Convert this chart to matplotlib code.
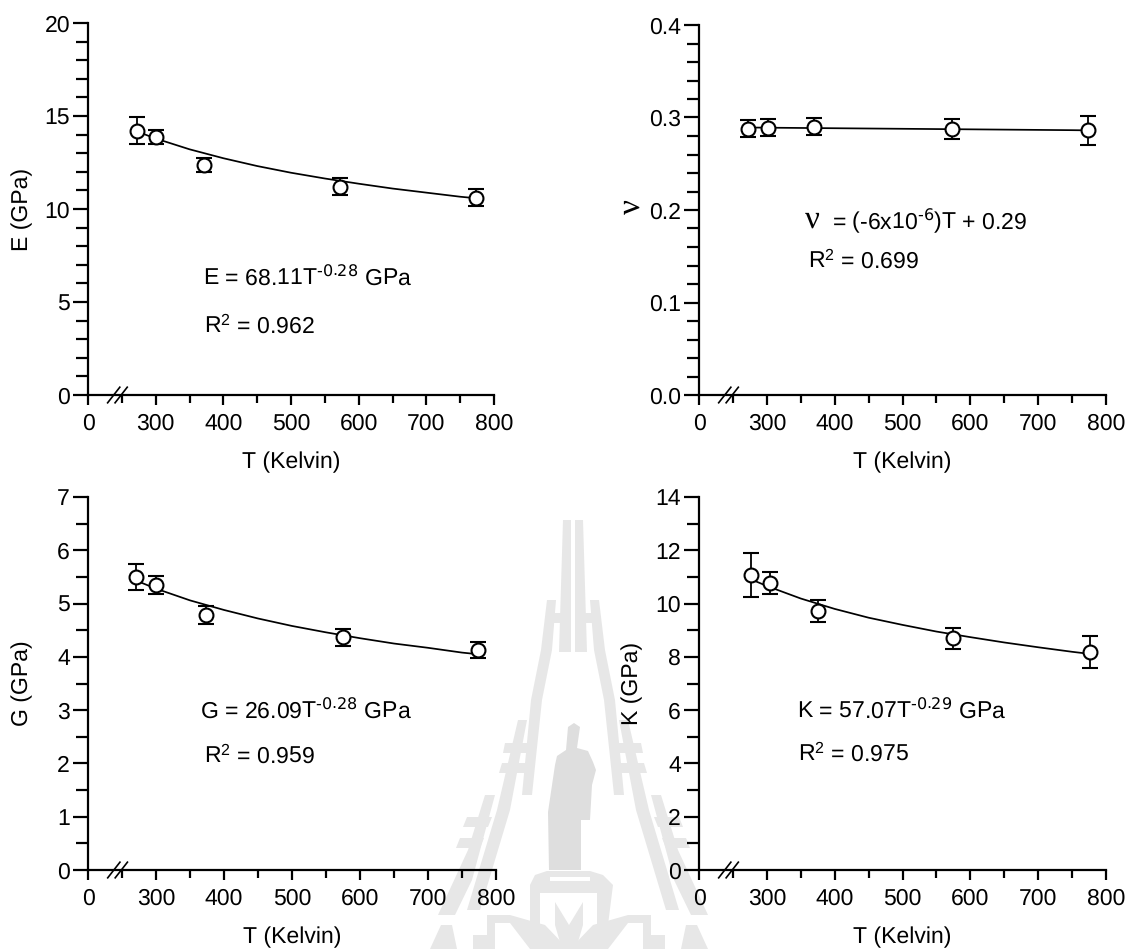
import matplotlib
matplotlib.use('Agg')
import matplotlib.pyplot as plt
from matplotlib.patches import Polygon
from matplotlib.ticker import MultipleLocator, FixedLocator, FuncFormatter

plt.rcParams['font.family'] = ['Liberation Sans', 'DejaVu Sans']
plt.rcParams['mathtext.default'] = 'regular'
plt.rcParams['text.hinting'] = 'no_hinting'
plt.rcParams['text.hinting_factor'] = 1

W, H = 1129, 949
FS = 16.5

# measured temperatures for each panel
T_e = [272, 301, 371, 573, 773]
T_v = [272, 302, 370, 573, 773]
T_g = [271, 300, 373, 575, 773]
T_k = [276, 305, 375, 575, 776]

e_val = [14.2, 13.85, 12.37, 11.2, 10.6]
e_err = [0.72, 0.38, 0.37, 0.45, 0.45]
v_val = [0.288, 0.289, 0.290, 0.2875, 0.286]
v_err = [0.009, 0.009, 0.009, 0.0105, 0.016]
g_val = [5.5, 5.35, 4.78, 4.37, 4.12]
g_err = [0.25, 0.17, 0.17, 0.16, 0.15]
k_val = [11.08, 10.77, 9.72, 8.7, 8.2]
k_err = [0.83, 0.42, 0.43, 0.4, 0.6]

# fitted curves
T_fit = [273, 300, 350, 400, 450, 500, 550, 600, 650, 700, 750, 773]
e_fit = [14.16, 13.79, 13.21, 12.73, 12.31, 11.95, 11.64, 11.36, 11.10, 10.88, 10.66, 10.58]
v_fit = [0.2892, 0.2890, 0.2887, 0.2884, 0.2881, 0.2878, 0.2875, 0.2872, 0.2869, 0.2866, 0.2863, 0.2861]
g_fit = [5.42, 5.28, 5.06, 4.88, 4.72, 4.58, 4.46, 4.35, 4.25, 4.17, 4.08, 4.05]
k_fit = [10.95, 10.66, 10.19, 9.80, 9.47, 9.20, 8.95, 8.74, 8.54, 8.36, 8.19, 8.12]

x_ticks = [200, 300, 400, 500, 600, 700, 800]
x_labels = ['0', '300', '400', '500', '600', '700', '800']

fig = plt.figure(figsize=(W / 100, H / 100), dpi=100)


def px_axes(left, right, top, bottom):
    return fig.add_axes([left / W, 1 - bottom / H, (right - left) / W, (bottom - top) / H])


# watermark drawn in figure pixels (sketched from the crops)
grey = '#e7e7e7'
dark = '#dedede'
white = '#ffffff'


def shape(pts, col=grey, z=-5):
    fig.add_artist(Polygon([(x / W, 1 - y / H) for x, y in pts], closed=True, fc=col, ec='none',
                           transform=fig.transFigure, zorder=z))


def both(pts, col=grey, z=-5, c=573):
    shape(pts, col, z)
    shape([(2 * c - x, y) for x, y in pts], col, z)


# spire
both([(563, 520), (571, 520), (571, 567), (571, 652), (559, 652)])
# first wing, rungs and second and third wings
both([(547, 600), (556, 600), (552, 650), (542, 700), (532, 795), (522, 795), (531, 700), (541, 650)])
both([(550, 613), (566, 613), (566, 623), (550, 623)])
both([(518, 720), (527, 720), (510, 810), (480, 910), (467, 910), (497, 810)])
both([(505, 743), (532, 743), (530, 753), (503, 753)])
both([(502, 763), (529, 763), (527, 773), (499, 773)])
both([(485, 795), (495, 795), (472, 880), (455, 915), (438, 915), (468, 850)])
both([(467, 817), (492, 817), (488, 827), (463, 827)])
both([(460, 838), (484, 838), (480, 848), (456, 848)])
# statue
statue = [(568, 727), (574, 723), (580, 727), (577, 748), (588, 751), (593, 762), (596, 770), (592, 785),
          (590, 820), (581, 820), (581, 870), (549, 870), (548, 812), (555, 765), (557, 756), (566, 750)]
shape(statue, dark)
# pedestal, lotus and side leaves
shape([(547, 871), (590, 871), (603, 875), (613, 885), (608, 925), (530, 925), (530, 885), (535, 875)], grey)
shape([(550, 877), (590, 877), (590, 881), (550, 881)], white, -4)
shape([(540, 893), (597, 893), (597, 930), (540, 930)], white, -4)
both([(487, 915), (510, 915), (545, 925), (568, 949), (473, 949), (473, 935), (487, 935)], grey, -3, 569)
both([(495, 923), (510, 923), (530, 949), (495, 949)], white, -2, 569)
both([(555, 902), (569, 925), (569, 949), (562, 949), (555, 925)], grey, -1, 569)
both([(441, 925), (452, 925), (457, 949), (430, 949)], grey, -5, 569)


def panel(pos, T, val, err, fit, ymax, major, minor, ylabel, ylab_x, fmt):
    ax = px_axes(*pos)
    ax.patch.set_alpha(0)
    ax.set_xlim(200, 800)
    ax.set_ylim(0, ymax)
    ax.plot(T_fit, fit, color='k', lw=1.25, zorder=2)
    ax.errorbar(T, val, yerr=err, fmt='o', ms=10, mfc='white', mec='k', mew=1.5, ecolor='k',
                elinewidth=1.3, capsize=5.8, capthick=1.7, zorder=3)
    for s in ['top', 'right']:
        ax.spines[s].set_visible(False)
    for s in ['left', 'bottom']:
        ax.spines[s].set_linewidth(1.6)
    ax.xaxis.set_major_locator(FixedLocator(x_ticks))
    ax.set_xticklabels(x_labels)
    ax.xaxis.set_minor_locator(FixedLocator([250, 350, 450, 550, 650, 750]))
    ax.yaxis.set_major_locator(MultipleLocator(major))
    ax.yaxis.set_minor_locator(MultipleLocator(minor))
    ax.yaxis.set_major_formatter(FuncFormatter(lambda v, p: fmt % v))
    ax.tick_params(which='major', direction='out', width=1.6, labelsize=FS)
    ax.tick_params(axis='x', which='major', length=7, pad=6)
    ax.tick_params(axis='y', which='major', length=10.5, pad=2.5)
    ax.tick_params(axis='x', which='minor', direction='out', length=5.5, width=1.6)
    ax.tick_params(axis='y', which='minor', direction='out', length=8.5, width=1.6)
    ax.set_xlabel('T (Kelvin)', fontsize=FS, labelpad=12)
    ax.set_ylabel(ylabel, fontsize=FS)
    ax.yaxis.set_label_coords(ylab_x, 0.5)
    # axis break slashes
    for x0 in [238, 249]:
        ax.plot([x0 - 9, x0 + 9], [-0.021 * ymax, 0.021 * ymax], color='k', lw=1.2, clip_on=False, zorder=4)
    return ax


ax1 = panel((88, 494, 23, 395), T_e, e_val, e_err, e_fit, 20, 5, 1, 'E (GPa)', -0.135, '%d')
ax2 = panel((699, 1106, 25, 395), T_v, v_val, v_err, v_fit, 0.4, 0.1, 0.02, '', -0.135, '%.1f')
ax3 = panel((88, 496, 497, 870), T_g, g_val, g_err, g_fit, 7, 1, 0.5, 'G (GPa)', -0.135, '%d')
ax4 = panel((699, 1106, 497, 870), T_k, k_val, k_err, k_fit, 14, 2, 1, 'K (GPa)', -0.137, '%d')


def note(x, y, s, **kw):
    fig.text(x / W, 1 - y / H, s, fontsize=FS, va='baseline', ha='left', **kw)


note(203, 285, r'E = 68.11T$^{\text{-0.28}}$ GPa')
note(204, 333, 'R$^{2}$ = 0.962')
note(832, 229, r'= (-6x10$^{\text{-6}}$)T + 0.29')
note(808, 268, 'R$^{2}$ = 0.699')
note(200, 718, r'G = 26.09T$^{\text{-0.28}}$ GPa')
note(204, 763, 'R$^{2}$ = 0.959')
note(797, 718, r'K = 57.07T$^{\text{-0.29}}$ GPa')
note(798, 761, 'R$^{2}$ = 0.975')

# nu in a serif face
fig.text(805 / W, 1 - 228 / H, '\u03bd', fontsize=24, family='Liberation Serif', ha='left', va='baseline')
fig.text(632 / W, 1 - 207 / H, '\u03bd', fontsize=24, family='Liberation Serif', rotation=90, ha='center', va='center')

fig.savefig('out.png', dpi=100)
